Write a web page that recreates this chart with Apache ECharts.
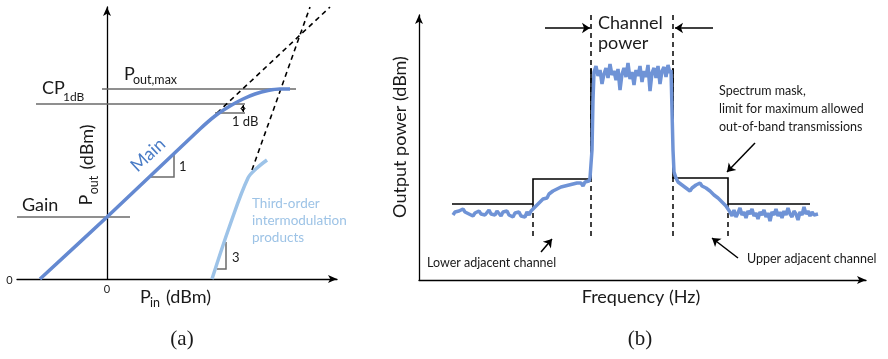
<!DOCTYPE html>
<html>
<head>
<meta charset="utf-8">
<title>PA nonlinearity</title>
<script src="https://cdn.jsdelivr.net/npm/echarts@6.0.0/dist/echarts.min.js"></script>
<style>
html, body { margin: 0; padding: 0; background: #fff; }
#chart { width: 888px; height: 359px; }
</style>
</head>
<body>
<div id="chart"></div>
<script>
// (a) Pin / Pout curves
var mainX = [-67, 0, 93, 108, 123, 136, 148, 161, 173, 183];
var mainY = [0, 62, 150, 163, 173, 180, 185, 188.5, 190, 190];
var imX = [105, 123, 141, 150, 160];
var imY = [0, 54, 101, 111, 119];
var linearExtrap = [[110, 166], [223, 272]];
var imExtrap = [[145, 109], [203, 272]];
var poutMaxLine = [[-5, 190], [189, 190]];
var cp1dbLine = [[-71, 175], [138, 175]];
var gainLine = [[-90, 62], [23, 62]];
var oneDbBase = [[108, 166], [138, 166]];
var oneDbGap = [[136, 174], [136, 167]];
var mainSlope = [[43, 102], [67, 102], [67, 124]];
var imSlope = [[110, 10], [119, 10], [119, 37]];

// (b) spectrum, one point per frequency step
var freqB = [
  // lower floor
  34, 36, 38, 40, 42, 44, 46, 48, 50, 52, 54, 56, 58, 60, 62, 64, 66, 68, 70, 72,
  74, 76, 78, 80, 82, 84, 86, 88, 90, 92, 94, 96, 98, 100, 102, 104, 106, 108, 110, 112,
  // lower adjacent channel
  114, 116, 118, 120, 122, 124, 126, 128, 130, 132, 134, 136, 138, 140, 142, 144, 146, 148, 150, 152,
  154, 156, 158, 160, 162, 164, 166, 168, 170, 171, 173, 174,
  // main channel
  175, 177, 179, 181, 183, 185, 187, 189, 191, 193, 195, 197, 199, 201, 203, 205, 207, 209, 211, 213,
  215, 217, 219, 221, 223, 225, 227, 229, 231, 233, 235, 237, 239, 241, 243, 245, 247, 249, 251, 252,
  253, 254, 255,
  // upper adjacent channel
  257, 259, 261, 263, 265, 267, 269, 271, 273, 275, 277, 279, 281, 283, 285, 287, 289, 291, 293, 295,
  297, 299, 301, 303, 305, 307, 309,
  // upper floor
  311, 313, 315, 317, 319, 321, 323, 325, 327, 329, 331, 333, 335, 337, 339, 341, 343, 345, 347, 349,
  351, 353, 355, 357, 359, 361, 363, 365, 367, 369, 371, 373, 375, 377, 379, 381, 383, 385, 387, 389,
  391, 393, 395, 397, 399
];
var powerB = [
  65, 68, 66, 69, 67, 71, 68, 70, 66, 68, 64, 67, 65, 69, 66, 68, 65, 67, 70, 66,
  68, 65, 69, 67, 64, 68, 66, 69, 65, 67, 63, 67, 65, 68, 64, 66, 63, 68, 65, 69,
  71, 73, 75, 77, 78, 81, 83, 82, 86, 87, 89, 88, 91, 90, 93, 91, 94, 92, 95, 93,
  96, 94, 97, 95, 97, 94, 98, 96, 99, 102, 130, 180,
  208, 214, 204, 210, 196, 206, 212, 202, 216, 205, 209, 200, 211, 190, 206, 212, 203, 217, 201, 208,
  195, 210, 204, 214, 198, 209, 203, 215, 189, 207, 212, 202, 214, 196, 209, 213, 203, 215, 207, 210,
  170, 130, 108,
  102, 98, 99, 95, 96, 92, 93, 89, 92, 91, 95, 94, 97, 94, 96, 92, 93, 89, 88, 85,
  86, 82, 81, 78, 77, 74, 72,
  68, 64, 70, 63, 67, 72, 65, 68, 62, 69, 66, 71, 64, 67, 61, 68, 65, 70, 63, 67,
  59, 68, 65, 71, 64, 68, 62, 69, 65, 72, 66, 63, 69, 66, 60, 68, 65, 73, 66, 69,
  64, 68, 65, 67, 66
];
var maskLeft = [[33, 76], [114, 76], [114, 101], [172, 101], [172, 212]];
var maskRight = [[254, 212], [254, 102], [309, 102], [309, 76], [391, 76]];
var dashesB = [
  [[172, 265], [172, 43]], [[254, 265], [254, 43]],
  [[114, 76], [114, 43]], [[309, 76], [309, 43]]
];
var arrowsB = [
  [[126, 252], [171, 252]], [[294, 252], [256, 252]],
  [[336, 137], [308, 108]], [[122, 28], [133, 41]], [[319, 22], [293, 42]]
];

function zip(xs, ys) {
  return xs.map(function (x, i) { return [x, ys[i]]; });
}
function segs(list) {
  return list.map(function (c) { return { coords: c }; });
}

var FONT = 'Lato';
function txt(t, x, y, size, opts) {
  opts = opts || {};
  return {
    type: 'text',
    x: x,
    y: y,
    rotation: opts.rot || 0,
    z: 10,
    style: {
      text: t,
      fontSize: size,
      fontFamily: opts.family || FONT,
      fill: opts.color || '#1a1a1a',
      align: opts.align || 'left',
      textAlign: opts.align || 'left',
      verticalAlign: 'middle',
      textVerticalAlign: 'middle'
    }
  };
}

var arrowAxis = {
  show: true,
  symbol: ['none', 'arrow'],
  symbolSize: [6, 9],
  lineStyle: { color: '#000', width: 1.3 }
};

var myChart = echarts.init(document.getElementById('chart'));
myChart.setOption({
  animation: false,
  grid: [
    { left: 17, top: 7, width: 320, height: 272 },
    { left: 419, top: 15, width: 447, height: 265 }
  ],
  xAxis: [
    {
      gridIndex: 0, type: 'value', min: -90, max: 230,
      axisLine: arrowAxis, axisTick: { show: false }, splitLine: { show: false },
      axisLabel: { customValues: [0], fontSize: 11, color: '#222', margin: 5, fontFamily: FONT }
    },
    {
      gridIndex: 1, type: 'value', min: 0, max: 447,
      axisLine: arrowAxis, axisTick: { show: false }, splitLine: { show: false },
      axisLabel: { show: false }
    }
  ],
  yAxis: [
    {
      gridIndex: 0, type: 'value', min: 0, max: 272,
      axisLine: Object.assign({ onZero: true }, arrowAxis),
      axisTick: { show: false }, splitLine: { show: false }, axisLabel: { show: false }
    },
    {
      gridIndex: 1, type: 'value', min: 0, max: 265,
      axisLine: arrowAxis, axisTick: { show: false }, splitLine: { show: false },
      axisLabel: { show: false }
    }
  ],
  series: [
    // (a)
    {
      type: 'lines', coordinateSystem: 'cartesian2d', xAxisIndex: 0, yAxisIndex: 0,
      polyline: true, silent: true, z: 2,
      lineStyle: { color: '#6a6a6a', width: 1.5, opacity: 1 },
      data: segs([poutMaxLine, cp1dbLine, gainLine, oneDbBase, mainSlope, imSlope])
    },
    {
      type: 'lines', coordinateSystem: 'cartesian2d', xAxisIndex: 0, yAxisIndex: 0,
      silent: true, z: 2,
      lineStyle: { color: '#000', width: 1.6, type: [5, 4], opacity: 1 },
      data: segs([linearExtrap, imExtrap])
    },
    {
      type: 'lines', coordinateSystem: 'cartesian2d', xAxisIndex: 0, yAxisIndex: 0,
      silent: true, z: 3, symbol: ['arrow', 'arrow'], symbolSize: 4,
      lineStyle: { color: '#000', width: 1, opacity: 1 },
      data: segs([oneDbGap])
    },
    {
      type: 'line', xAxisIndex: 0, yAxisIndex: 0, smooth: 0.3,
      showSymbol: false, z: 4,
      lineStyle: { color: '#6489d1', width: 3.5 },
      data: zip(mainX, mainY)
    },
    {
      type: 'line', xAxisIndex: 0, yAxisIndex: 0, smooth: 0.35, showSymbol: false, z: 4,
      lineStyle: { color: '#9dc3e8', width: 3.5 },
      data: zip(imX, imY)
    },
    // (b)
    {
      type: 'lines', coordinateSystem: 'cartesian2d', xAxisIndex: 1, yAxisIndex: 1,
      polyline: true, silent: true, z: 2,
      lineStyle: { color: '#000', width: 1.6, opacity: 1 },
      data: segs([maskLeft, maskRight])
    },
    {
      type: 'lines', coordinateSystem: 'cartesian2d', xAxisIndex: 1, yAxisIndex: 1,
      silent: true, z: 2,
      lineStyle: { color: '#000', width: 1.5, type: [5, 4], opacity: 1 },
      data: segs(dashesB)
    },
    {
      type: 'lines', coordinateSystem: 'cartesian2d', xAxisIndex: 1, yAxisIndex: 1,
      silent: true, z: 2, symbol: ['none', 'arrow'], symbolSize: 8,
      lineStyle: { color: '#000', width: 1.5, opacity: 1 },
      data: segs(arrowsB)
    },
    {
      type: 'line', xAxisIndex: 1, yAxisIndex: 1, showSymbol: false, z: 4,
      lineStyle: { color: '#6f93d6', width: 3.5 },
      data: zip(freqB, powerB)
    }
  ],
  graphic: [
    // (a)
    txt('0', 9.5, 280, 11, { align: 'center' }),
    txt('CP', 42, 88.5, 18),
    txt('1dB', 63, 97, 12),
    txt('P', 124, 74, 18),
    txt('out,max', 133, 80, 12.5),
    txt('1 dB', 232, 122, 13),
    txt('Main', 148, 155, 18, { align: 'center', rot: 0.75, color: '#4a7cc6' }),
    txt('1', 179, 167, 13),
    txt('3', 232, 258, 13),
    txt('Gain', 22, 205, 18),
    txt('P', 86, 200, 18, { align: 'center', rot: Math.PI / 2 }),
    txt('out', 94, 185, 12.5, { align: 'center', rot: Math.PI / 2 }),
    txt('(dBm)', 87, 147, 18, { align: 'center', rot: Math.PI / 2 }),
    txt('P', 140, 297, 18),
    txt('in', 150, 303, 12.5),
    txt('(dBm)', 166, 297, 18),
    txt('Third-order', 252, 204, 13.5, { color: '#9dc3e6' }),
    txt('intermodulation', 252, 221, 13.5, { color: '#9dc3e6' }),
    txt('products', 252, 238, 13.5, { color: '#9dc3e6' }),
    txt('(a)', 182, 339, 21, { align: 'center', family: 'Liberation Serif' }),
    // (b)
    txt('Channel', 598, 23, 18),
    txt('power', 598, 43, 18),
    txt('Spectrum mask,', 719, 91, 12.5),
    txt('limit for maximum allowed', 719, 109, 12.5),
    txt('out-of-band transmissions', 719, 127, 12.5),
    txt('Lower adjacent channel', 427, 263, 12.5),
    txt('Upper adjacent channel', 747, 259, 12.5),
    txt('Frequency (Hz)', 641, 297, 18, { align: 'center' }),
    txt('Output power (dBm)', 400, 137, 18, { align: 'center', rot: Math.PI / 2 }),
    txt('(b)', 640, 339, 21, { align: 'center', family: 'Liberation Serif' })
  ]
});
</script>
</body>
</html>
